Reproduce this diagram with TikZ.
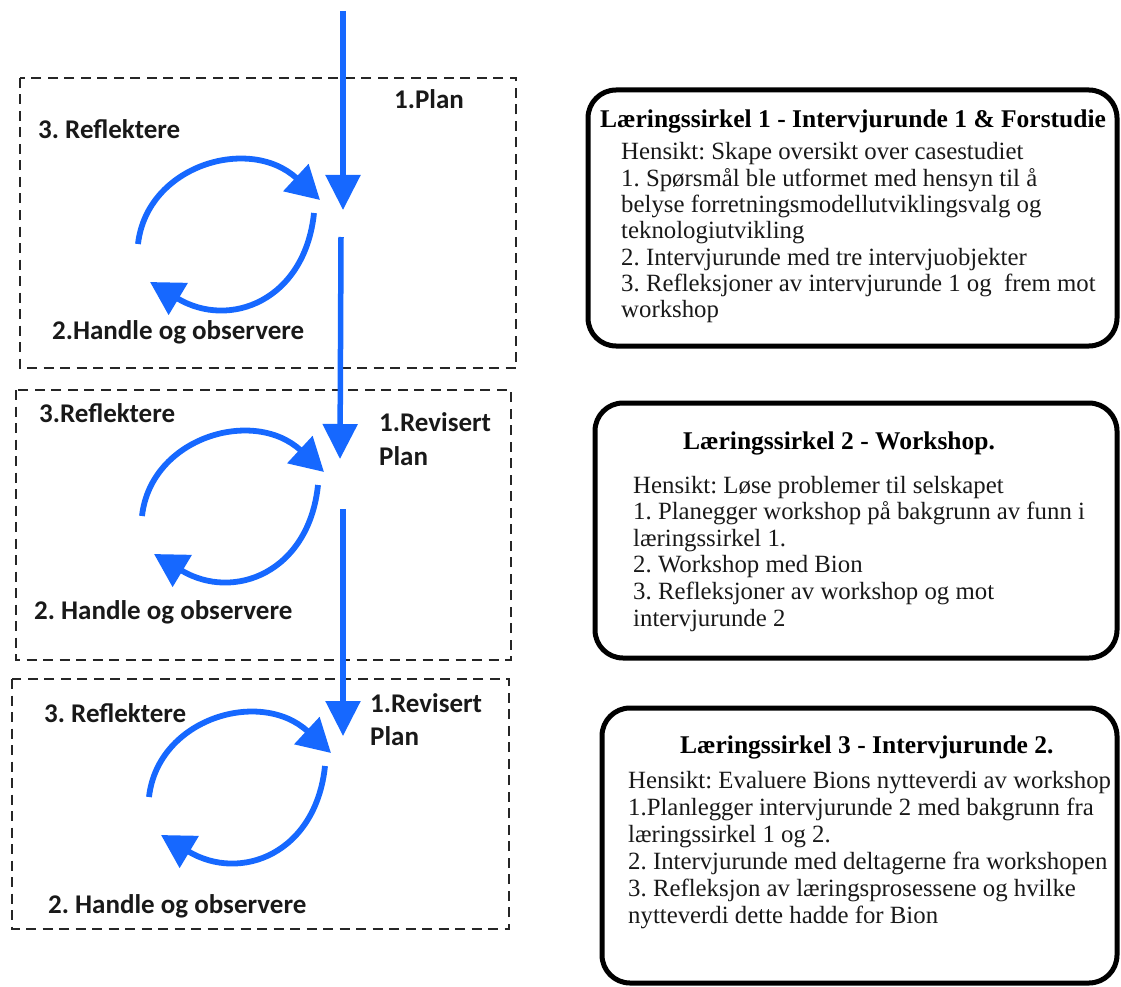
\documentclass[tikz,border=0pt]{standalone}
\usepackage{fontspec}
\setmainfont{Liberation Serif}
\newfontfamily\labelfont{Carlito}
\usetikzlibrary{arrows.meta}
\definecolor{cycleblue}{RGB}{22,104,255}
\frenchspacing

\begin{document}
\begin{tikzpicture}[x=1pt,y=-1pt,
  frame/.style={draw=black!85, line width=2.8pt, dash pattern=on 10pt off 6.5pt},
  infobox/.style={draw=black, line width=5pt, rounded corners=28pt},
  flow/.style={draw=cycleblue, line width=5.5pt,
    -{Triangle[length=35pt,width=34pt]}},
  cyc/.style={draw=cycleblue, line width=5.8pt,
    -{Triangle[length=33pt,width=36pt]}},
  lbl/.style={font=\labelfont\bfseries\fontsize{27}{30}\selectfont,
    text=black!90, inner sep=0pt, anchor=base west},
  head/.style={font=\bfseries\fontsize{25.5}{28}\selectfont,
    inner sep=0pt, anchor=base west},
  body/.style={font=\fontsize{24.8}{27}\selectfont,
    text=black!90, inner sep=0pt, anchor=base west}]

\useasboundingbox (0,0) rectangle (1121,987);

% dashed frames of the three cycles
\draw[frame] (20,78) rectangle (516,368);
\draw[frame] (16,390) rectangle (511,660);
\draw[frame] (12,679) rectangle (509,929);

% main vertical flow
\coordinate (v1s) at (343,11);
\coordinate (v1e) at (343,210);
\coordinate (v2s) at (341,237);
\coordinate (v2e) at (340,459);
\coordinate (v3s) at (343,509);
\coordinate (v3e) at (343,736);
\draw[flow] (v1s) -- (v1e);
\draw[flow] (v2s) -- (v2e);
\draw[flow] (v3s) -- (v3e);

% cycle arrows inside each frame
\foreach \i/\tx/\ty in {1/320/200, 2/324/472, 3/331/753} {
  \begin{scope}[shift={(\tx,\ty)}]
    \coordinate (up\i-s) at (-182,44);
    \coordinate (up\i-e) at (0,0);
    \coordinate (lo\i-s) at (-6,13);
    \coordinate (lo\i-e) at (-170,82);
    \draw[cyc] (up\i-s) .. controls +(9,-79) and +(-70,-65) .. (up\i-e);
    \draw[cyc] (lo\i-s) .. controls +(-9,87) and +(80,48) .. (lo\i-e);
  \end{scope}
}

% labels of cycle 1
\node[lbl] (r1) at (38,139) {3. Reflektere};
\node[lbl] (p1) at (394,109) {1.Plan};
\node[lbl] (h1) at (52,339) {2.Handle og observere};
% labels of cycle 2
\node[lbl] (r2) at (39,422) {3.Reflektere};
\node[lbl] (p2a) at (379,431) {1.Revisert};
\node[lbl] (p2b) at (379,465) {Plan};
\node[lbl] (h2) at (34,619) {2. Handle og observere};
% labels of cycle 3
\node[lbl] (r3) at (44,722) {3. Reflektere};
\node[lbl] (p3a) at (370,712) {1.Revisert};
\node[lbl] (p3b) at (370,745) {Plan};
\node[lbl] (h3) at (48,913) {2. Handle og observere};

% description boxes
\draw[infobox] (588,90) rectangle (1117,346);
\draw[infobox] (595,403) rectangle (1117,658);
\draw[infobox] (602,708) rectangle (1117,983);

\node[head] (ta) at (600,128) {Læringssirkel 1 - Intervjurunde 1 \& Forstudie};
\foreach \t [count=\k from 0] in {
  Hensikt: Skape oversikt over casestudiet,
  1. Spørsmål ble utformet med hensyn til å,
  belyse forretningsmodellutviklingsvalg og,
  teknologiutvikling,
  2. Intervjurunde med tre intervjuobjekter,
  3. Refleksjoner av intervjurunde 1 og\ \ frem mot,
  workshop}
  \node[body] (a\k) at (621,{160+26.3*\k}) {\t};

\node[head] (tb) at (683,449) {Læringssirkel 2 - Workshop.};
\foreach \t [count=\k from 0] in {
  Hensikt: Løse problemer til selskapet,
  1. Planegger workshop på bakgrunn av funn i,
  læringssirkel 1.,
  2. Workshop med Bion,
  3. Refleksjoner av workshop og mot,
  intervjurunde 2}
  \node[body] (b\k) at (633,{493+26.6*\k}) {\t};

\node[head] (tc) at (680,753) {Læringssirkel 3 - Intervjurunde 2.};
\foreach \t [count=\k from 0] in {
  Hensikt: Evaluere Bions nytteverdi av workshop,
  1.Planlegger intervjurunde 2 med bakgrunn fra,
  læringssirkel 1 og 2.,
  2. Intervjurunde med deltagerne fra workshopen,
  3. Refleksjon av læringsprosessene og hvilke,
  nytteverdi dette hadde for Bion}
  \node[body] (c\k) at (628,{788+27*\k}) {\t};

\end{tikzpicture}
\end{document}
